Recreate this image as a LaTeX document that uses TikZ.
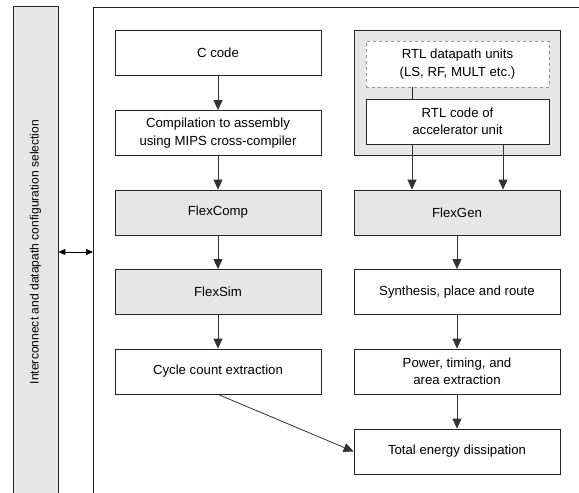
\documentclass[tikz,border=0pt]{standalone}
\usepackage{fontspec}
\setmainfont{Liberation Sans}
\usepackage{tikz}
\usetikzlibrary{arrows.meta,calc}

\begin{document}
\begin{tikzpicture}[x=1pt,y=1pt,
    box/.style={draw=black!85, line width=0.8pt, minimum width=206, minimum height=45,
      align=center, font=\fontsize{13.2}{17.5}\selectfont},
    toolbox/.style={box, fill=flowgray},
    arr/.style={-{Triangle[length=10pt,width=9pt]}, draw=black!80, line width=0.8pt}]
    \definecolor{flowgray}{RGB}{230,230,230}   % cajas grises
    \definecolor{dashgray}{RGB}{150,150,150}   % borde punteado

    \useasboundingbox (0,0) rectangle (579,-493);

    % barra de seleccion y marco
    \node (selbar) at (35.5,-252) [draw=black!85, line width=0.8pt, fill=flowgray,
      minimum width=45, minimum height=492] {};
    \node at (selbar.center) [rotate=90, font=\fontsize{12.1}{15}\selectfont]
      {Interconnect and datapath configuration selection};
    \coordinate (frm) at (93,-252);
    \coordinate (fbl) at (93,-498);
    \draw[black!85, line width=0.8pt] (fbl) |- (582,-7.5);
    \draw[{Triangle[length=7pt,width=6pt]}-{Triangle[length=7pt,width=6pt]}, line width=0.8pt]
      (selbar.east) -- (frm);

    % columna izquierda
    \node (ccode) at (218,-52.5) [box] {C code};
    \node (comp)  at (218,-133)  [box] {Compilation to assembly\\using MIPS cross-compiler};
    \node (fcomp) at (218,-212.5) [toolbox] {FlexComp};
    \node (fsim)  at (218,-292)  [toolbox] {FlexSim};
    \node (cycle) at (218,-371.5) [box] {Cycle count extraction};

    % columna derecha
    \node (rtlgrp) at (457,-92.5) [draw=black!85, line width=0.8pt, fill=flowgray,
      minimum width=206, minimum height=125] {};
    \node (units) at (457.5,-64) [box, draw=dashgray, dashed, fill=white,
      minimum width=183, minimum height=46] {RTL datapath units\\(LS, RF, MULT etc.)};
    \node (rtl)   at (457.5,-121.5) [box, fill=white, minimum width=183]
      {RTL code of\\accelerator unit};
    \node (fgen)  at (457,-212.5) [toolbox] {FlexGen};
    \node (synth) at (457,-292)  [box] {Synthesis, place and route};
    \node (power) at (457,-371.5) [box] {Power, timing, and\\area extraction};
    \node (total) at (457,-451.5) [box] {Total energy dissipation};

    \draw[arr] (ccode) -- (comp);
    \draw[arr] (comp) -- (fcomp);
    \draw[arr] (fcomp) -- (fsim);
    \draw[arr] (fsim) -- (cycle);

    \draw[black!85, line width=0.8pt] ([xshift=-45.5pt]units.south) -- ([xshift=-45.5pt]rtl.north);
    \draw[arr] ([xshift=-45.5pt]rtl.south) -- ([xshift=-45.5pt]rtl.south |- fgen.north);
    \draw[arr] ([xshift=45.5pt]rtl.south) -- ([xshift=45.5pt]rtl.south |- fgen.north);
    \draw[arr] (fgen) -- (synth);
    \draw[arr] (synth) -- (power);
    \draw[arr] (power) -- (total);
    \draw[arr] (cycle.south) -- (total.west);
  \end{tikzpicture}
\end{document}
